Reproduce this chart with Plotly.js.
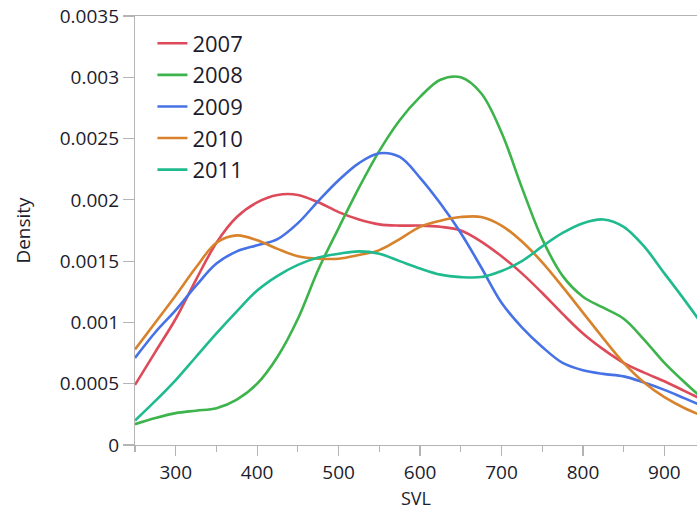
<!DOCTYPE html>
<html>
<head>
<meta charset="utf-8">
<script src="https://cdn.plot.ly/plotly-3.0.1.min.js"></script>
<style>html,body{margin:0;padding:0;background:#fff;}#chart{width:697px;height:515px;}</style>
</head>
<body>
<div id="chart"></div>
<script>
// SVL grid (x values) shared by all density curves
var svl = [250,275,300,325,350,375,400,425,450,475,500,525,550,575,600,625,650,675,700,725,750,775,800,825,850,875,900,925,950];

var d2007 = [0.00049,0.00076,0.00103,0.00135,0.00165,0.00186,0.00198,0.00204,0.00204,0.00198,0.00190,0.00184,0.00180,0.00179,0.00179,0.00178,0.00175,0.00166,0.00154,0.00140,0.00124,0.00107,0.00091,0.00078,0.00067,0.00059,0.00052,0.00044,0.00036];
var d2008 = [0.00017,0.00022,0.00026,0.00028,0.00030,0.00037,0.00050,0.00072,0.00103,0.00143,0.00177,0.00210,0.00240,0.00265,0.00284,0.00298,0.00300,0.00287,0.00255,0.00210,0.00168,0.00138,0.00121,0.00112,0.00103,0.00086,0.00067,0.00051,0.00036];
var d2009 = [0.00071,0.00092,0.00110,0.00130,0.00148,0.00158,0.00163,0.00168,0.00181,0.00199,0.00216,0.00230,0.00238,0.00235,0.00218,0.00197,0.00173,0.00145,0.00116,0.00096,0.00080,0.00067,0.00061,0.00058,0.00056,0.00051,0.00045,0.00038,0.00031];
var d2010 = [0.00078,0.00100,0.00122,0.00145,0.00165,0.00171,0.00167,0.00160,0.00154,0.00152,0.00152,0.00155,0.00159,0.00168,0.00178,0.00183,0.00186,0.00186,0.00179,0.00166,0.00149,0.00129,0.00108,0.00087,0.00067,0.00051,0.00039,0.00030,0.00023];
var d2011 = [0.00020,0.00036,0.00053,0.00072,0.00091,0.00109,0.00126,0.00138,0.00147,0.00153,0.00156,0.00158,0.00156,0.00150,0.00144,0.00139,0.00137,0.00137,0.00142,0.00150,0.00162,0.00173,0.00181,0.00184,0.00178,0.00162,0.00140,0.00118,0.00095];

var seriesNames = ['2007','2008','2009','2010','2011'];
var seriesData = [d2007, d2008, d2009, d2010, d2011];
var seriesColors = ['#dd4b5a','#3cb44b','#4672e6','#d8822c','#1fba8e'];

var yTickVals = [0,0.0005,0.001,0.0015,0.002,0.0025,0.003,0.0035];
var yTickText = ['0','0.0005','0.001','0.0015','0.002','0.0025','0.003','0.0035'];
var xTickVals = [300,400,500,600,700,800,900];
var xTickText = ['300','400','500','600','700','800','900'];

var traces = seriesNames.map(function(n,i){
  return {x: svl, y: seriesData[i], name: n, type: 'scatter', mode: 'lines',
    line: {color: seriesColors[i], width: 2.6, shape: 'spline', smoothing: 1}};
});

var fontFam = '"Open Sans", "Noto Sans", sans-serif';
var layout = {
  width: 697, height: 515,
  margin: {l: 135, r: 0, t: 16, b: 70},
  paper_bgcolor: '#fff', plot_bgcolor: '#fff',
  font: {family: fontFam, color: '#1c1c2c'},
  showlegend: true,
  legend: {x: 0.031, y: 0.985, xanchor: 'left', yanchor: 'top', bgcolor: 'rgba(0,0,0,0)',
    font: {size: 22, family: fontFam, color: '#1c1c2c'}, tracegroupgap: 0},
  xaxis: {range: [250, 940], showgrid: false, zeroline: false,
    showline: true, linecolor: '#b4b4b4', linewidth: 1.2, mirror: true,
    ticks: 'outside', ticklen: 10, tickcolor: '#b4b4b4', tickwidth: 1.2,
    tickvals: xTickVals, ticktext: xTickText,
    minor: {tickvals: [250,350,450,550,650,750,850,950], ticks: 'outside', ticklen: 6, tickcolor: '#b4b4b4', tickwidth: 1.2},
    tickfont: {size: 19, family: fontFam, color: '#1c1c2c'},
    title: {text: 'SVL', font: {size: 18, family: fontFam, color: '#1c1c2c'}, standoff: 8}},
  yaxis: {range: [0, 0.0035], showgrid: false, zeroline: false,
    showline: true, linecolor: '#b4b4b4', linewidth: 1.2,
    ticks: 'outside', ticklen: 11, tickcolor: '#b4b4b4', tickwidth: 1.2,
    tickvals: yTickVals, ticktext: yTickText,
    tickfont: {size: 19, family: fontFam, color: '#1c1c2c'},
    title: {text: 'Density', font: {size: 19, family: fontFam, color: '#1c1c2c'}, standoff: 24}}
};

Plotly.newPlot('chart', traces, layout, {displayModeBar: false, staticPlot: true});
</script>
</body>
</html>
